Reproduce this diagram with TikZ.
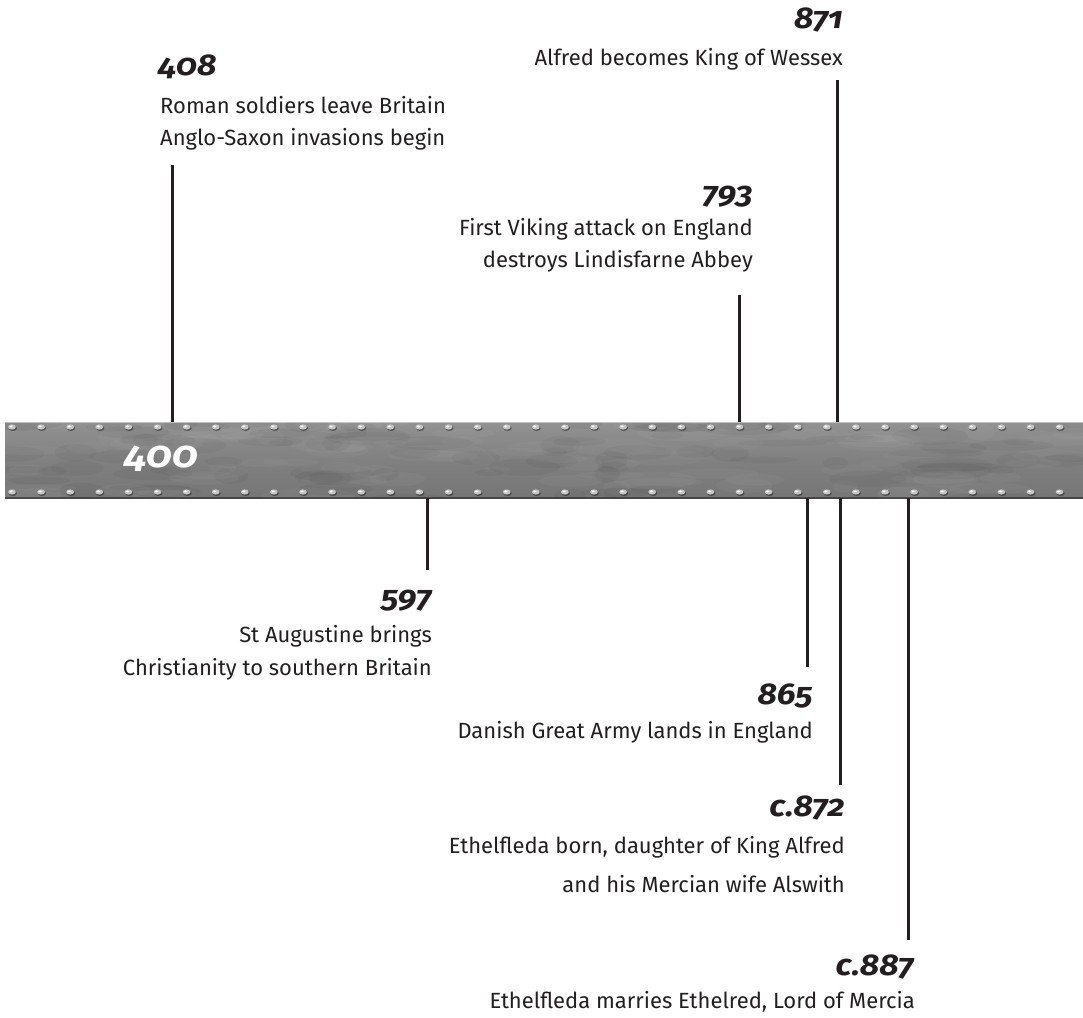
\documentclass[tikz,border=0pt]{standalone}
\usepackage{fontspec}
\setmainfont{Fira Sans}
\newfontfamily\yearfont[Numbers=OldStyle, FakeStretch=1.13]{Fira Sans}
\usetikzlibrary{positioning}
\definecolor{ink}{HTML}{231F20}
\definecolor{steeltop}{RGB}{146,146,146}
\definecolor{steelmid}{RGB}{128,128,128}
\definecolor{steelbot}{RGB}{118,118,118}

\begin{document}
\begin{tikzpicture}[x=1pt, y=-1pt, eventtxt/.style={inner sep=0pt, text=ink, font=\fontsize{22}{22}\selectfont}, yeartxt/.style={inner sep=0pt, text=ink, font=\yearfont\bfseries\itshape\fontsize{30}{30}\selectfont}, tick/.style={draw=ink, line width=3pt}, bar/.style={top color=steeltop, bottom color=steelbot, middle color=steelmid, minimum width=1078pt, minimum height=76pt, inner sep=0pt}]
  \useasboundingbox (0,0) rectangle (1083,1017);

  % the steel bar
  \node[bar, anchor=north west] (bar) at (5,422) {};
  \begin{scope}
    \clip (bar.north west) rectangle (bar.south east);
    \pgfmathsetseed{11}
    \foreach \k in {1,...,90} {
      \fill[black, opacity=0.035] ({5+1078*rnd}, {422+76*rnd}) ellipse ({12+36*rnd} and {3+6*rnd});
      \fill[white, opacity=0.03] ({5+1078*rnd}, {422+76*rnd}) ellipse ({12+36*rnd} and {3+6*rnd});
    }
    \draw[white, opacity=0.45, line width=1.5pt] (bar.north west) -- (bar.north east);
    \draw[black, opacity=0.4, line width=2pt] (bar.south west) -- (bar.south east);
  \end{scope}
  \foreach \i in {0,...,36} {
    \foreach \y in {427,492} {
      \fill[black, opacity=0.4] ({12+29.1*\i+0.8}, \y+1.2) ellipse (4.2pt and 2.8pt);
      \fill[gray!45] ({12+29.1*\i}, \y) ellipse (3.9pt and 2.6pt);
      \fill[white, opacity=0.9] ({12+29.1*\i-1}, \y-0.6) ellipse (1.6pt and 1.1pt);
    }
  }
  \node[yeartxt, text=white, font=\yearfont\bfseries\itshape\fontsize{37}{37}\selectfont, anchor=base west] (y400) at (124,467) {400};

  % above the bar
  \node[yeartxt, anchor=base west] (y408) at (158,75) {408};
  \node[eventtxt, anchor=base west] (t408a) at (160,113) {Roman soldiers leave Britain};
  \node[eventtxt, anchor=base west] (t408b) at (160,145) {Anglo-Saxon invasions begin};
  \coordinate (b408) at (172,422);
  \coordinate (e408) at (172,165);
  \draw[tick] (b408) -- (e408);

  \node[yeartxt, anchor=base east] (y793) at (753,203) {793};
  \node[eventtxt, anchor=base east] (t793a) at (753,235) {First Viking attack on England};
  \node[eventtxt, anchor=base east] (t793b) at (753,267) {destroys Lindisfarne Abbey};
  \coordinate (b793) at (739,422);
  \coordinate (e793) at (739,295);
  \draw[tick] (b793) -- (e793);

  \node[yeartxt, anchor=base east] (y871) at (843,28) {871};
  \node[eventtxt, anchor=base east] (t871) at (843,65) {Alfred becomes King of Wessex};
  \coordinate (b871) at (837,422);
  \coordinate (e871) at (837,80);
  \draw[tick] (b871) -- (e871);

  % below the bar
  \node[yeartxt, anchor=base east] (y597) at (432,607) {597};
  \node[eventtxt, anchor=base east] (t597a) at (432,642) {St Augustine brings};
  \node[eventtxt, anchor=base east] (t597b) at (432,675) {Christianity to southern Britain};
  \coordinate (b597) at (427,498);
  \coordinate (e597) at (427,570);
  \draw[tick] (b597) -- (e597);

  \node[yeartxt, anchor=base east] (y865) at (813,704) {865};
  \node[eventtxt, anchor=base east] (t865) at (813,738) {Danish Great Army lands in England};
  \coordinate (b865) at (807,498);
  \coordinate (e865) at (807,667);
  \draw[tick] (b865) -- (e865);

  \node[yeartxt, anchor=base east] (y872) at (845,816) {c.872};
  \node[eventtxt, anchor=base east] (t872a) at (845,853) {Ethelfleda born, daughter of King Alfred};
  \node[eventtxt, anchor=base east] (t872b) at (845,892) {and his Mercian wife Alswith};
  \coordinate (b872) at (840,498);
  \coordinate (e872) at (840,785);
  \draw[tick] (b872) -- (e872);

  \node[yeartxt, anchor=base east] (y887) at (914,975) {c.887};
  \node[eventtxt, anchor=base east] (t887) at (915,1008) {Ethelfleda marries Ethelred, Lord of Mercia};
  \coordinate (b887) at (908,498);
  \coordinate (e887) at (908,940);
  \draw[tick] (b887) -- (e887);
\end{tikzpicture}
\end{document}
